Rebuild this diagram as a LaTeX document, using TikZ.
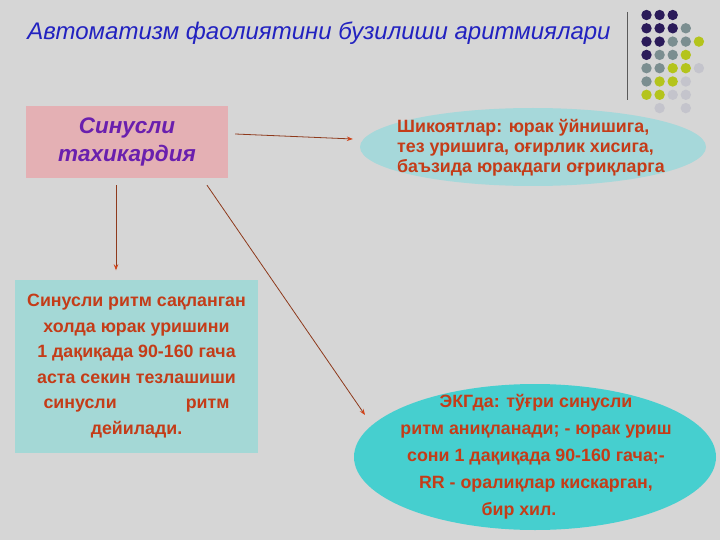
\documentclass[tikz,border=0pt]{standalone}
\usepackage{fontspec}
\setmainfont{Liberation Sans}
\usetikzlibrary{shapes.geometric,arrows.meta,calc}
\definecolor{bg}{HTML}{D6D6D6}
\definecolor{titleblue}{HTML}{2222C0}
\definecolor{pinkbox}{HTML}{E4B0B4}
\definecolor{purpletext}{HTML}{6A1FAE}
\definecolor{tealbox}{HTML}{A4D8D6}
\definecolor{tealell}{HTML}{A6D8DA}
\definecolor{cyanell}{HTML}{46CFCF}
\definecolor{redtext}{HTML}{C43C18}
\definecolor{arrowline}{HTML}{8E3A1C}
\definecolor{arrowtip}{HTML}{D2441A}
\definecolor{dpur}{HTML}{2B1B5A}
\definecolor{dgray}{HTML}{7B8E90}
\definecolor{lime}{HTML}{B4C41C}
\definecolor{lgray}{HTML}{C4C4CC}
\definecolor{rule}{HTML}{5A5A5A}
\tikzset{
  conn/.style={draw=arrowline, line width=0.8pt, -{Stealth[length=6pt,width=4.5pt,color=arrowtip,fill=arrowtip]}},
  bodytext/.style={text=redtext, font=\fontsize{17.8}{25.5}\selectfont\bfseries, inner sep=0pt},
  dot/.style={circle, inner sep=0pt, minimum size=10.4pt}
}
\begin{document}
\begin{tikzpicture}[x=1pt,y=-1pt]
\useasboundingbox (0,0) rectangle (720,540);
\fill[bg] (0,0) rectangle (720,540);

% title
\node[text=titleblue, font=\fontsize{24}{30}\selectfont\itshape, inner sep=0pt] (title) at (319,33)
  {Автоматизм фаолиятини бузилиши аритмиялари};

% decoration: rule and dots
\draw[rule, line width=1pt] (627,12) -- (627,100);
\foreach \c/\r/\col [count=\i] in {0/0/dpur,1/0/dpur,2/0/dpur,
  0/1/dpur,1/1/dpur,2/1/dpur,3/1/dgray,
  0/2/dpur,1/2/dpur,2/2/dgray,3/2/dgray,4/2/lime,
  0/3/dpur,1/3/dgray,2/3/dgray,3/3/lime,
  0/4/dgray,1/4/dgray,2/4/lime,3/4/lime,4/4/lgray,
  0/5/dgray,1/5/lime,2/5/lime,3/5/lgray,
  0/6/lime,1/6/lime,2/6/lgray,3/6/lgray,
  1/7/lgray,3/7/lgray}
  \node[dot, fill=\col] (d\i) at (646.5+\c*13.1, 15+\r*13.3) {};

% pink box
\node[rectangle, fill=pinkbox, minimum width=202pt, minimum height=72pt, inner sep=0pt,
      text=purpletext, font=\fontsize{22.5}{28}\selectfont\bfseries\itshape, align=center]
  (sinus) at (127,142) {\raisebox{-3pt}{Синусли}\\\raisebox{-3pt}{тахикардия}};

% left box
\node[rectangle, fill=tealbox, minimum width=243pt, minimum height=173pt, bodytext, align=center]
  (leftbox) at (136.5,366) {Синусли ритм сақланган\\холда юрак уришини\\1 дақиқада 90-160 гача\\аста секин тезлашиши\\\makebox[186pt]{синусли\hfill ритм}\\дейилади.};

% top ellipse
\node[ellipse, fill=tealell, minimum width=346pt, minimum height=78pt, inner sep=0pt] (ell1) at (533,147) {};
\node[bodytext, align=left, anchor=west, font=\fontsize{17.8}{20}\selectfont\bfseries] (ell1text) at (397,148)
  {Шикоятлар: юрак ўйнишига,\\тез уришига, оғирлик хисига,\\баъзида юракдаги оғриқларга};

% bottom ellipse
\node[ellipse, fill=cyanell, minimum width=362pt, minimum height=146pt, inner sep=0pt] (ell2) at (535,457) {};
\node[bodytext, align=center, font=\fontsize{17.8}{27}\selectfont\bfseries] (ell2text) at (536,457)
  {ЭКГда: тўғри синусли\\ритм аниқланади; - юрак уриш\\сони 1 дақиқада 90-160 гача;-\\RR - оралиқлар кискарган,\\бир хил.\hspace*{34pt}};

% connectors
\draw[conn] ([xshift=7pt,yshift=8pt]sinus.east) -- ([xshift=-7pt,yshift=8pt]ell1.west);
\coordinate (c2) at ([xshift=-11pt,yshift=-7pt]sinus.south);
\draw[conn, shorten >=9pt] (c2) -- (c2 |- leftbox.north);
\draw[conn] ([xshift=80pt,yshift=-7pt]sinus.south) -- ([xshift=-170pt,yshift=42pt]ell2.center);
\end{tikzpicture}
\end{document}
